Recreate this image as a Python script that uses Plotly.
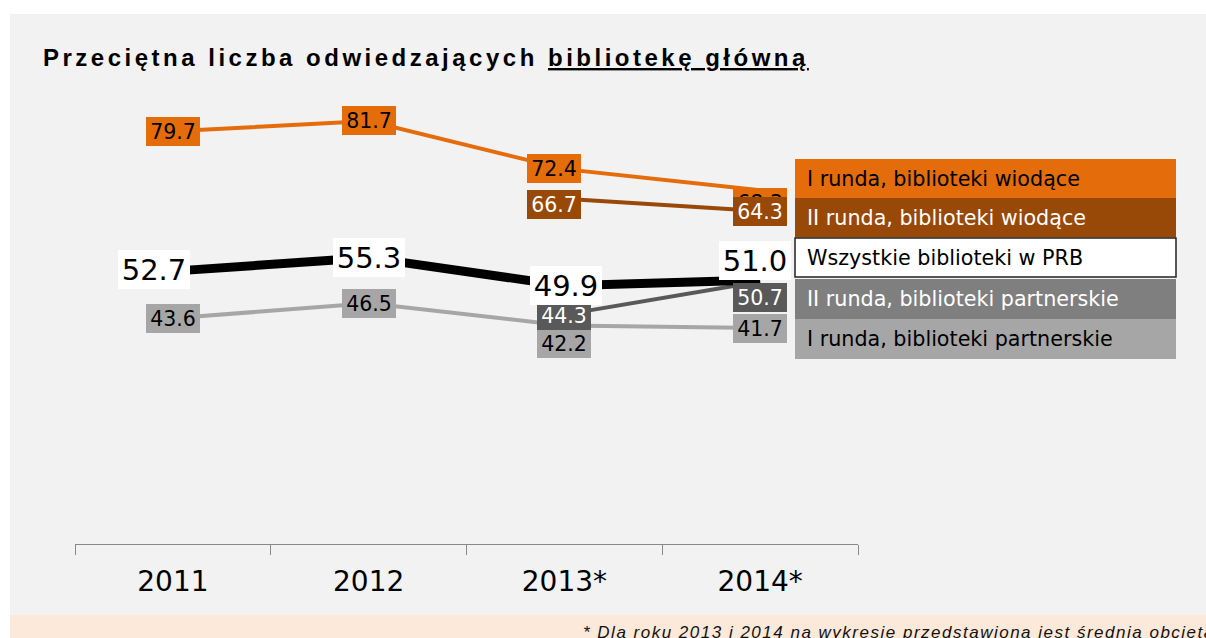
import plotly.graph_objects as go

# ---------------- data ----------------
years = ["2011", "2012", "2013*", "2014*"]
series_names = [
    "I runda, biblioteki wiodące",
    "II runda, biblioteki wiodące",
    "Wszystkie biblioteki w PRB",
    "II runda, biblioteki partnerskie",
    "I runda, biblioteki partnerskie",
]
i_wiodace = [79.7, 81.7, 72.4, 68.3]
ii_wiodace = [None, None, 66.7, 64.3]
wszystkie = [52.7, 55.3, 49.9, 51.0]
ii_partnerskie = [None, None, 44.3, 50.7]
i_partnerskie = [43.6, 46.5, 42.2, 41.7]

title_main = "Przeciętna liczba odwiedzających "
title_underlined = "bibliotekę główną"
footnote = "* Dla roku 2013 i 2014 na wykresie przedstawiona jest średnia obcięta"

# ---------------- styles ----------------
FONT = "DejaVu Sans"
styles = [
    dict(vals=i_partnerskie, line="#A6A6A6", lw=4, box="#A6A6A6", fc="#000000", fs=20.5, bw=52, bh=27,
         shifts=[(0, 0), (0, 0), (0, -18), (0, 0)]),
    dict(vals=ii_partnerskie, line="#595959", lw=4, box="#595959", fc="#FFFFFF", fs=20.5, bw=52, bh=27,
         shifts=[(0, 0), (0, 0), (0, -1), (0, -16)]),
    dict(vals=i_wiodace, line="#E46C0A", lw=4, box="#E46C0A", fc="#000000", fs=20.5, bw=52, bh=27,
         shifts=[(0, 0), (0, 0), (-10, 1), (0, -12)]),
    dict(vals=ii_wiodace, line="#984807", lw=4, box="#984807", fc="#FFFFFF", fs=20.5, bw=52, bh=27,
         shifts=[(0, 0), (0, 0), (-10, -6), (0, 0)]),
    dict(vals=wszystkie, line="#000000", lw=9, box="#FFFFFF", fc="#000000", fs=29, bw=70, bh=37,
         shifts=[(-19, 2), (0, 0), (2, 0), (-5, 19)]),
]
label_order = [2, 3, 0, 1, 4]

legend_fill = ["#E46C0A", "#984807", "#FFFFFF", "#7F7F7F", "#A6A6A6"]
legend_font = ["#000000", "#FFFFFF", "#000000", "#FFFFFF", "#000000"]
legend_rows = [(159, 198), (198, 237.5), (238, 277), (279, 319), (319, 359)]

# plot area, in page pixels (body margin removed below)
W, H = 1206, 638
PL, PR, PT, PB = 75, 858, 78, 544


def fx(px):
    return (px - PL) / (PR - PL)


def fy(py):
    return (PB - py) / (PB - PT)


fig = go.Figure()

for s in styles:
    fig.add_trace(go.Scatter(
        x=years, y=s["vals"], mode="lines",
        line=dict(color=s["line"], width=s["lw"]),
        connectgaps=False, hoverinfo="skip", showlegend=False,
    ))

annotations = []
for idx in label_order:
    s = styles[idx]
    for i, v in enumerate(s["vals"]):
        if v is None:
            continue
        dx, dy = s["shifts"][i]
        annotations.append(dict(
            x=i, y=v, xref="x", yref="y", text=f"{v:.1f}",
            showarrow=False, xshift=dx, yshift=dy,
            font=dict(family=FONT, size=s["fs"], color=s["fc"]),
            bgcolor=s["box"], borderpad=1, borderwidth=0,
            width=s["bw"], height=s["bh"], align="center", valign="middle",
        ))

shapes = [
    dict(type="rect", xref="paper", yref="paper", x0=fx(10), x1=fx(W + 20), y0=fy(615), y1=fy(14),
         fillcolor="#F2F2F2", line=dict(width=0), layer="below"),
    dict(type="rect", xref="paper", yref="paper", x0=fx(10), x1=fx(W + 20), y0=fy(H + 20), y1=fy(615),
         fillcolor="#FDE9D9", line=dict(width=0), layer="below"),
]

# legend panel
for k, name in enumerate(series_names):
    y0, y1 = legend_rows[k]
    shapes.append(dict(
        type="rect", xref="paper", yref="paper", x0=fx(795), x1=fx(1176), y0=fy(y1), y1=fy(y0),
        fillcolor=legend_fill[k],
        line=dict(width=1.5 if legend_fill[k] == "#FFFFFF" else 0, color="#222222"),
        layer="above",
    ))
    annotations.append(dict(
        x=fx(805), y=fy((y0 + y1) / 2), xref="paper", yref="paper", xanchor="left", yanchor="middle",
        text=name, showarrow=False, font=dict(family=FONT, size=20.7, color=legend_font[k]),
    ))

# title
annotations.append(dict(
    x=fx(41), y=fy(57), xref="paper", yref="paper", xanchor="left", yanchor="middle",
    text=f"<b><span style='letter-spacing:3.5px'>{title_main}<u>{title_underlined}</u></span></b>",
    showarrow=False, font=dict(family="Liberation Sans", size=24, color="#000000"),
))

# footnote
annotations.append(dict(
    x=fx(581), y=fy(621), xref="paper", yref="paper", xanchor="left", yanchor="top",
    text=f"<i><span style='letter-spacing:1.5px'>{footnote}</span></i>",
    showarrow=False, font=dict(family="Liberation Sans", size=17, color="#111111"),
))

fig.update_layout(
    width=W, height=H,
    margin=dict(l=PL, r=W - PR, t=PT, b=H - PB, pad=0),
    paper_bgcolor="#FFFFFF", plot_bgcolor="rgba(0,0,0,0)",
    showlegend=False, hovermode=False,
    shapes=shapes, annotations=annotations,
    xaxis=dict(
        type="category", range=[-0.5, 3.5], showgrid=False, zeroline=False,
        showline=True, linecolor="#888888", linewidth=1,
        ticks="outside", tickson="boundaries", ticklen=10, tickcolor="#888888", tickwidth=1,
        tickfont=dict(family=FONT, size=28, color="#000000"), ticklabelstandoff=12,
    ),
    yaxis=dict(range=[0, 90], visible=False, fixedrange=True),
)

fig.write_html(
    "out.html",
    config={"displayModeBar": False, "staticPlot": True},
    post_script="document.body.style.margin='0';document.body.style.overflow='hidden';",
)
